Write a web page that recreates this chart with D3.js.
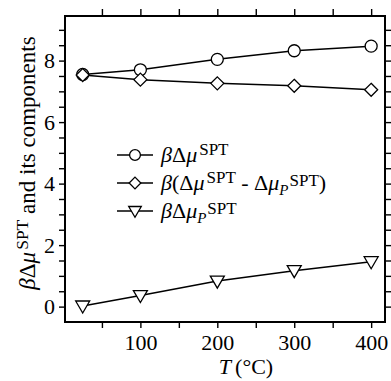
<!DOCTYPE html>
<html>
<head>
<meta charset="utf-8">
<script src="https://cdn.jsdelivr.net/npm/d3@7"></script>
<style>
  html, body { margin: 0; padding: 0; background: #fff; }
  svg { display: block; }
  text { font-family: "Liberation Serif", "Times New Roman", serif; fill: #000; }
</style>
</head>
<body>
<svg id="chart" width="391" height="381"></svg>
<script>
// Temperature (°C) and the SPT cavity-formation free energy terms
const temperatures = [25, 100, 200, 300, 400];
const totalSPT = [7.55, 7.70, 8.04, 8.32, 8.47];        // βΔμ^SPT
const differenceSPT = [7.53, 7.38, 7.26, 7.18, 7.05];   // β(Δμ^SPT - Δμ_P^SPT)
const pressureSPT = [0.02, 0.36, 0.83, 1.17, 1.46];     // βΔμ_P^SPT

const xTickValues = [50, 100, 150, 200, 250, 300, 350, 400];
const xTickLabels = [100, 200, 300, 400];
const yTickValues = d3.range(0, 9.01, 0.5);
const yTickLabels = [0, 2, 4, 6, 8];

const svg = d3.select("#chart");
const plotL = 65, plotR = 385, plotT = 16, plotB = 322;

const x = d3.scaleLinear().domain([2, 418]).range([plotL, plotR]);
const y = d3.scaleLinear().domain([-0.5, 9.45]).range([plotB, plotT]);

const fmt = d => xTickLabels.includes(d) ? String(d) : "";
const fmtY = d => yTickLabels.includes(d) ? String(d) : "";

function styleAxis(g) {
  g.select(".domain").remove();
  g.selectAll(".tick line").attr("stroke", "#000").attr("stroke-width", 1.4);
  g.selectAll(".tick text").style("font-size", "22px").style("font-family", "Liberation Serif, serif");
}

// bottom / top axes
svg.append("g").attr("transform", `translate(0,${plotB})`)
  .call(d3.axisBottom(x).tickValues(xTickValues).tickFormat(fmt).tickSize(6).tickPadding(6))
  .call(styleAxis);
svg.append("g").attr("transform", `translate(0,${plotT})`)
  .call(d3.axisTop(x).tickValues(xTickValues).tickFormat("").tickSize(7))
  .call(styleAxis);

// left / right axes
svg.append("g").attr("transform", `translate(${plotL},0)`)
  .call(d3.axisLeft(y).tickValues(yTickValues).tickFormat(fmtY).tickSize(6).tickPadding(4))
  .call(styleAxis);
svg.append("g").attr("transform", `translate(${plotR},0)`)
  .call(d3.axisRight(y).tickValues(yTickValues).tickFormat("").tickSize(6))
  .call(styleAxis);

// frame
svg.append("rect")
  .attr("x", plotL).attr("y", plotT)
  .attr("width", plotR - plotL).attr("height", plotB - plotT)
  .attr("fill", "none").attr("stroke", "#000").attr("stroke-width", 2);

// open markers
const markerDraw = {
  circle: (g, cx, cy, s) => g.append("circle").attr("cx", cx).attr("cy", cy).attr("r", 6 * s),
  diamond: (g, cx, cy, s) => g.append("path")
    .attr("d", `M${cx},${cy - 6.5 * s}L${cx + 6.5 * s},${cy}L${cx},${cy + 6.5 * s}L${cx - 6.5 * s},${cy}Z`),
  triangle: (g, cx, cy, s) => g.append("path")
    .attr("d", `M${cx - 7 * s},${cy - 5 * s}L${cx + 7 * s},${cy - 5 * s}L${cx},${cy + 7 * s}Z`)
};

const series = [
  { values: totalSPT, marker: "circle" },
  { values: differenceSPT, marker: "diamond" },
  { values: pressureSPT, marker: "triangle" }
];

const line = d3.line().x(d => x(d[0])).y(d => y(d[1]));

series.forEach(s => {
  const pts = temperatures.map((t, i) => [t, s.values[i]]);
  svg.append("path").datum(pts).attr("d", line)
    .attr("fill", "none").attr("stroke", "#000").attr("stroke-width", 1.5);
  const g = svg.append("g").attr("fill", "#fff").attr("stroke", "#000").attr("stroke-width", 1.3);
  pts.forEach(p => markerDraw[s.marker](g, x(p[0]), y(p[1]), 1));
});

// legend
const legendRows = [155, 183, 211];
const legendX0 = 117, legendX1 = 153, legendTextX = 161;

function addRich(textSel, parts) {
  parts.forEach(p => {
    const ts = textSel.append("tspan").text(p.t);
    if (p.it) ts.attr("font-style", "italic");
    if (p.size) ts.attr("font-size", p.size);
    if (p.dy) ts.attr("dy", p.dy);
    if (p.dx) ts.attr("dx", p.dx);
  });
}

const SUP = 17, SUB = 15;
const legendParts = [
  [{ t: "β", it: 1 }, { t: "Δ" }, { t: "μ", it: 1 }, { t: "SPT", size: SUP, dy: -7, dx: 2 }],
  [{ t: "β", it: 1 }, { t: "(Δ" }, { t: "μ", it: 1 }, { t: "SPT", size: SUP, dy: -7, dx: 2 },
   { t: " - Δ", dy: 7 }, { t: "μ", it: 1 }, { t: "P", it: 1, size: SUB, dy: 5 },
   { t: "SPT", size: SUP, dy: -9, dx: 1 }, { t: ")", dy: 4 }],
  [{ t: "β", it: 1 }, { t: "Δ" }, { t: "μ", it: 1 }, { t: "P", it: 1, size: SUB, dy: 5 },
   { t: "SPT", size: SUP, dy: -9, dx: 1 }]
];

series.forEach((s, i) => {
  const cy = legendRows[i];
  const cx = (legendX0 + legendX1) / 2;
  svg.append("line").attr("x1", legendX0).attr("x2", legendX1)
    .attr("y1", cy).attr("y2", cy).attr("stroke", "#000").attr("stroke-width", 1.5);
  const g = svg.append("g").attr("fill", "#fff").attr("stroke", "#000").attr("stroke-width", 1.3);
  markerDraw[s.marker](g, cx, cy, 0.9);
  const t = svg.append("text").attr("x", legendTextX).attr("y", cy + 7).attr("font-size", 22);
  addRich(t, legendParts[i]);
});

// axis titles
const xt = svg.append("text").attr("x", 246).attr("y", 374)
  .attr("text-anchor", "middle").attr("font-size", 22);
addRich(xt, [{ t: "T", it: 1 }, { t: "(°C)", dx: 4 }]);

const yt = svg.append("text")
  .attr("transform", "translate(35,163) rotate(-90)")
  .attr("text-anchor", "middle").attr("font-size", 23);
addRich(yt, [{ t: "β", it: 1 }, { t: "Δ" }, { t: "μ", it: 1 }, { t: "SPT", size: 17.5, dy: -7, dx: 2 },
  { t: " and its components", dy: 7 }]);
</script>
</body>
</html>
